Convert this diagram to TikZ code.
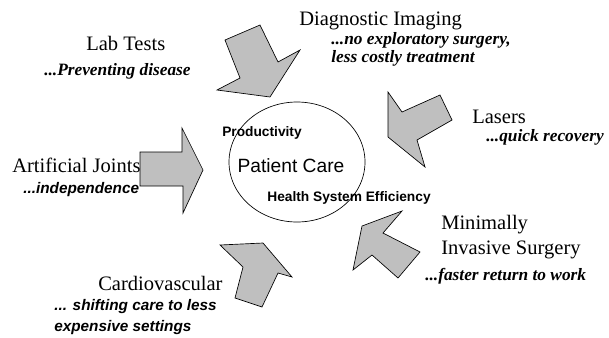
\documentclass[tikz,border=0pt]{standalone}
\usepackage{fontspec}
\setmainfont{Liberation Serif}
\setsansfont{Liberation Sans}
\newfontfamily\notefont{Liberation Serif Bold Italic}

\tikzset{
    bigarrow/.style={draw=black, line width=0.5pt, fill=black!25, line join=miter},
    topic/.style={font=\fontsize{15.4}{18.75}\selectfont, inner sep=0.75pt, anchor=west, align=left},
    benefit/.style={font=\notefont\fontsize{13}{13.5}\selectfont, inner sep=0.75pt, anchor=west, align=left},
    benefitsf/.style={font=\fontsize{11.5}{15.75}\selectfont\sffamily\bfseries\itshape, inner sep=0.75pt, anchor=west, align=left},
    goal/.style={font=\fontsize{10.3}{12}\selectfont\sffamily\bfseries, inner sep=0.75pt},
}

\begin{document}
\begin{tikzpicture}[x=0.75pt,y=0.75pt,yscale=-1,xscale=1]
        \useasboundingbox (0,0) rectangle (609,337);

        %Shape: Ellipse [id:core]
        \draw [line width=0.5pt] (297,162) ellipse (51pt and 45pt);

        %Shape: Arrow [id:diagnostic]
        \draw [bigarrow] (225,40) -- (260,25) -- (278,62) -- (300,50) -- (270,97) -- (217,90) -- (240,78) -- cycle ;
        %Shape: Arrow [id:lasers]
        \draw [bigarrow] (388,92) -- (402,112) -- (440,95) -- (452,120) -- (417,140) -- (425,167) -- (388,137) -- cycle ;
        %Shape: Arrow [id:joints]
        \draw [bigarrow] (140,152) -- (182,152) -- (182,128) -- (203,170) -- (183,213) -- (183,186) -- (140,186) -- cycle ;
        %Shape: Arrow [id:cardio]
        \draw [bigarrow] (220,245) -- (263,243) -- (292,277) -- (278,273) -- (262,307) -- (235,298) -- (243,267) -- cycle ;
        %Shape: Arrow [id:invasive]
        \draw [bigarrow] (402,211) -- (362,226) -- (353,270) -- (372,255) -- (398,278) -- (420,252) -- (383,233) -- cycle ;

        % Text Node
        \node [goal] (productivity) at (262,133) {Productivity};
        % Text Node
        \node [goal, font=\fontsize{14.4}{16}\selectfont\sffamily] (care) at (291,166) {Patient Care};
        % Text Node
        \node [goal] (efficiency) at (349,198) {Health System Efficiency};

        % Text Node
        \node [topic] (labtests) at (85,43) {Lab Tests};
        % Text Node
        \node [benefit] (labnote) at (43,71) {...Preventing disease};
        % Text Node
        \node [topic] (imaging) at (298,21) {Diagnostic Imaging};
        % Text Node
        \node [benefit] (imagingnote) at (330,49.5) {...no exploratory surgery,\\less costly treatment};
        % Text Node
        \node [topic] (lasers) at (471,117) {Lasers};
        % Text Node
        \node [benefit] (lasersnote) at (485,137) {...quick recovery};
        % Text Node
        \node [topic] (joints) at (11,165) {Artificial Joints};
        % Text Node
        \node [benefitsf] (jointsnote) at (22,190) {...independence};
        % Text Node
        \node [topic] (cardio) at (97,283) {Cardiovascular};
        % Text Node
        \node [benefitsf] (cardionote) at (53,317.5) {... shifting care to less\\expensive settings};
        % Text Node
        \node [topic] (invasive) at (440,237.5) {Minimally\\Invasive Surgery};
        % Text Node
        \node [benefit] (invasivenote) at (424,276) {...faster return to work};

\end{tikzpicture}
\end{document}
